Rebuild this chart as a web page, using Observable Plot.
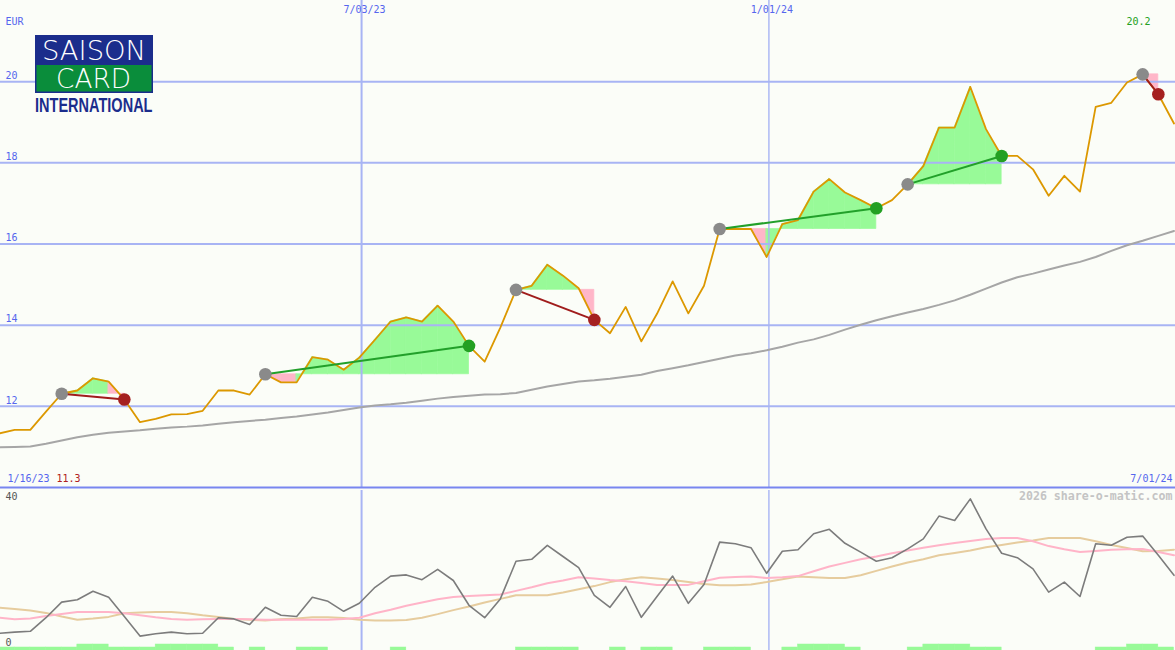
<!DOCTYPE html>
<html>
<head>
<meta charset="utf-8">
<script src="https://cdn.jsdelivr.net/npm/d3@7"></script>
<script src="https://cdn.jsdelivr.net/npm/@observablehq/plot@0.6"></script>
<style>
  html, body { margin: 0; padding: 0; background: #fbfdf8; }
  #wrap { position: relative; width: 1175px; height: 650px; background: #fbfdf8; overflow: hidden; }
  #topPanel, #bottomPanel { position: absolute; left: 0; }
  #topPanel { top: 0; }
  #bottomPanel { top: 488px; }
  #logo { position: absolute; left: 35px; top: 35px; overflow: visible; }
</style>
</head>
<body>
<div id="wrap">
  <div id="topPanel"></div>
  <div id="bottomPanel"></div>
  <svg id="logo" width="124" height="86" viewBox="0 0 124 86">
    <rect x="0" y="0" width="118" height="58" fill="#1b2d8c"></rect>
    <rect x="1.5" y="30" width="115" height="26.5" fill="#0a8d3b"></rect>
    <text x="59" y="24.5" text-anchor="middle" fill="#ffffff" font-family="DejaVu Sans" font-weight="200" font-size="26" textLength="104" lengthAdjust="spacingAndGlyphs">SAISON</text>
    <text x="58.5" y="52.5" text-anchor="middle" fill="#ffffff" font-family="DejaVu Sans" font-weight="200" font-size="26" textLength="75" lengthAdjust="spacingAndGlyphs">CARD</text>
    <text x="0" y="76.5" fill="#1b2d8c" font-family="Liberation Sans Narrow, Liberation Sans, DejaVu Sans" font-weight="bold" font-size="20" textLength="117.5" lengthAdjust="spacingAndGlyphs">INTERNATIONAL</text>
  </svg>
</div>
<script>
// ---------- data ----------
const dates = [
  "2023-01-22","2023-01-29","2023-02-05","2023-02-12","2023-02-19","2023-02-26","2023-03-05","2023-03-12","2023-03-19","2023-03-26",
  "2023-04-02","2023-04-09","2023-04-16","2023-04-23","2023-04-30","2023-05-07","2023-05-14","2023-05-21","2023-05-28","2023-06-04",
  "2023-06-11","2023-06-18","2023-06-25","2023-07-02","2023-07-09","2023-07-16","2023-07-23","2023-07-30","2023-08-06","2023-08-13",
  "2023-08-20","2023-08-27","2023-09-03","2023-09-10","2023-09-17","2023-09-24","2023-10-01","2023-10-08","2023-10-15","2023-10-22",
  "2023-10-29","2023-11-05","2023-11-12","2023-11-19","2023-11-26","2023-12-03","2023-12-10","2023-12-17","2023-12-24","2023-12-31",
  "2024-01-07","2024-01-14","2024-01-21","2024-01-28","2024-02-04","2024-02-11","2024-02-18","2024-02-25","2024-03-03","2024-03-10",
  "2024-03-17","2024-03-24","2024-03-31","2024-04-07","2024-04-14","2024-04-21","2024-04-28","2024-05-05","2024-05-12","2024-05-19",
  "2024-05-26","2024-06-02","2024-06-09","2024-06-16","2024-06-23","2024-06-30"
];

const price = [
  11.33, 11.42, 11.42, 11.87, 12.31, 12.39, 12.69, 12.61, 12.17, 11.61,
  11.69, 11.80, 11.81, 11.89, 12.39, 12.39, 12.29, 12.79, 12.59, 12.59,
  13.21, 13.15, 12.90, 13.20, 13.64, 14.09, 14.19, 14.09, 14.48, 14.09,
  13.49, 13.10, 13.94, 14.87, 14.97, 15.49, 15.22, 14.91, 14.13, 13.80,
  14.45, 13.60, 14.28, 15.08, 14.29, 14.97, 16.37, 16.37, 16.37, 15.68,
  16.49, 16.59, 17.29, 17.60, 17.27, 17.08, 16.88, 17.08, 17.47, 17.92,
  18.87, 18.87, 19.87, 18.83, 18.17, 18.17, 17.84, 17.19, 17.68, 17.29,
  19.38, 19.48, 19.98, 20.18, 19.69, 18.97
];

const movingAvg = [
  10.99, 11.00, 11.01, 11.08, 11.16, 11.24, 11.30, 11.35, 11.38, 11.41,
  11.45, 11.48, 11.50, 11.53, 11.57, 11.61, 11.64, 11.67, 11.71, 11.75,
  11.80, 11.85, 11.91, 11.97, 12.02, 12.05, 12.09, 12.14, 12.19, 12.23,
  12.26, 12.29, 12.30, 12.33, 12.41, 12.49, 12.55, 12.61, 12.64, 12.68,
  12.73, 12.78, 12.87, 12.94, 13.01, 13.09, 13.17, 13.25, 13.31, 13.38,
  13.47, 13.57, 13.65, 13.76, 13.89, 14.01, 14.12, 14.22, 14.31, 14.40,
  14.50, 14.61, 14.75, 14.90, 15.05, 15.18, 15.27, 15.37, 15.47, 15.56,
  15.68, 15.83, 15.97, 16.08, 16.20, 16.32
];

const oscMain = [
  4.3, 4.6, 4.8, 8.2, 12.1, 12.7, 14.8, 13.3, 8.5, 3.6,
  4.2, 4.6, 4.2, 4.3, 8.2, 7.9, 6.5, 10.8, 8.8, 8.5,
  13.3, 12.3, 9.8, 11.8, 15.8, 18.6, 18.9, 17.7, 20.3, 17.5,
  11.3, 8.2, 12.9, 22.3, 22.8, 26.3, 23.5, 20.7, 13.8, 10.8,
  16.0, 8.3, 13.5, 18.6, 11.8, 16.5, 27.1, 26.7, 25.7, 19.3,
  24.8, 25.2, 29.2, 30.3, 26.8, 24.6, 22.3, 23.2, 25.4, 27.9,
  33.6, 32.5, 37.9, 30.4, 24.3, 23.2, 20.4, 14.6, 17.1, 13.5,
  26.7, 26.3, 28.3, 28.6, 23.8, 18.8
];

const oscFast = [
  8.2, 7.8, 8.0, 8.6, 9.1, 9.6, 9.6, 9.6, 9.3, 8.8,
  8.3, 7.9, 7.7, 7.8, 7.9, 7.9, 7.8, 7.7, 7.7, 7.7,
  7.7, 7.7, 7.9, 8.2, 9.3, 10.2, 11.2, 12.0, 12.8, 13.4,
  13.6, 13.8, 14.0, 14.9, 15.8, 16.8, 17.5, 18.3, 18.0, 17.6,
  17.3, 16.9, 16.4, 16.4, 16.4, 17.3, 18.2, 18.4, 18.5, 18.1,
  18.3, 18.6, 19.8, 21.0, 21.9, 22.8, 23.5, 24.3, 25.0, 25.7,
  26.3, 26.9, 27.4, 27.9, 28.1, 28.1, 27.3, 26.1, 25.3, 24.6,
  24.9, 25.2, 25.3, 25.4, 24.6, 23.8
];

const oscSlow = [
  10.7, 10.4, 10.0, 9.4, 8.5, 7.7, 8.0, 8.4, 9.3, 9.5,
  9.6, 9.6, 9.3, 8.8, 8.4, 7.9, 7.7, 7.5, 7.8, 8.0,
  8.3, 8.3, 8.1, 7.7, 7.5, 7.5, 7.6, 8.2, 9.1, 10.1,
  11.0, 12.0, 12.9, 13.8, 13.8, 13.8, 14.5, 15.3, 16.1, 17.1,
  17.8, 18.3, 18.0, 17.6, 17.1, 16.6, 16.3, 16.3, 16.5, 17.1,
  17.8, 18.5, 18.3, 18.1, 18.1, 18.8, 19.9, 21.0, 22.0, 22.8,
  23.8, 24.4, 25.0, 25.8, 26.4, 27.0, 27.5, 28.1, 28.1, 28.1,
  27.3, 26.4, 25.6, 24.8, 24.9, 25.2
];

// weekly signal strength (0 none, 1 weak, 2 strong), one per week interval
const signal = [
  1,1,1,1,1, 2,2, 1,1,1, 2,2,2,2, 1, 0, 1, 0,0, 1,1, 0,0,0,0, 1,
  0,0,0,0,0,0,0, 1,1,1,1, 0,0, 1, 0, 1,1, 0,0, 1,1,1, 0,0,
  1, 2,2,2, 1, 0,0,0, 1, 2,2,2, 1,1, 0,0,0,0,0,0, 1,1, 2,2, 1
];

const tradeBuy  = ["2023-02-19","2023-05-21","2023-09-10","2023-12-10","2024-03-03","2024-06-16"];
const tradeSell = ["2023-03-19","2023-08-20","2023-10-15","2024-02-18","2024-04-14","2024-06-23"];

const priceTicks = [12, 14, 16, 18, 20];
const oscTicks = [0, 40];
const gridDates = ["2023-07-03", "2024-01-01"];
const gridLabels = ["7/03/23", "1/01/24"];
const currency = "EUR";
const startLabel = "1/16/23";
const endLabel = "7/01/24";
const watermark = "2026 share-o-matic.com";

// ---------- build ----------
const parse = d3.utcParse("%Y-%m-%d");
const X = dates.map(parse);
const rows = X.map((d, i) => ({date: d, price: price[i], ma: movingAvg[i], osc: oscMain[i], fast: oscFast[i], slow: oscSlow[i]}));
const G = gridDates.map(parse);

const GREEN = "#98fa98", PINK = "#ffb6c8";
const trades = tradeBuy.map((b, t) => {
  const bi = dates.indexOf(b), si = dates.indexOf(tradeSell[t]);
  return {bi, si, bd: X[bi], sd: X[si], bp: price[bi], sp: price[si], win: price[si] >= price[bi]};
});
const segs = [];
trades.forEach((tr, t) => {
  for (let i = tr.bi; i < tr.si; i++) {
    const fill = price[i + 1] >= tr.bp ? GREEN : PINK;
    const seg = t + "-" + i;
    segs.push({seg, date: X[i], entry: tr.bp, price: price[i], fill});
    segs.push({seg, date: X[i + 1], entry: tr.bp, price: price[i + 1], fill});
  }
});
const bars = signal.map((s, i) => ({x1: X[i], x2: X[i + 1], level: s})).filter(d => d.level > 0);

const hi = d3.max(price), lo = d3.min(price);
const BLUE_TXT = "#5566ee";
const GRID = "#a8b4f4";
const xDomain = [X[0], X[X.length - 1]];
const gridW = (d, i) => i === 0 ? 2 : 1.4;
const baseStyle = {background: "transparent", fontFamily: "DejaVu Sans Mono", fontSize: "10px", overflow: "visible"};

const topChart = Plot.plot({
  width: 1175, height: 488,
  marginTop: 0, marginBottom: 1, marginLeft: -1.5, marginRight: 1.5,
  x: {type: "utc", domain: xDomain, axis: null},
  y: {domain: [10, 22], axis: null},
  color: {type: "identity"},
  style: baseStyle,
  marks: [
    Plot.areaY(segs, {x: "date", y1: "entry", y2: "price", z: "seg", fill: "fill", stroke: "fill", strokeWidth: 0.7}),
    Plot.ruleY(priceTicks, {stroke: GRID, strokeWidth: 2, insetLeft: -2, insetRight: -2}),
    Plot.ruleX(G, {x: d => d, stroke: GRID, strokeWidth: gridW}),
    Plot.ruleY([10], {stroke: "#7886f0", strokeWidth: 2.2, insetLeft: -2, insetRight: -2}),
    Plot.line(rows, {x: "date", y: "ma", stroke: "#a6a6a6", strokeWidth: 2}),
    Plot.line(rows, {x: "date", y: "price", stroke: "#dc9800", strokeWidth: 1.8}),
    Plot.link(trades, {x1: "bd", y1: "bp", x2: "sd", y2: "sp", stroke: d => d.win ? "#22a02a" : "#a01c1c", strokeWidth: 2}),
    Plot.dot(trades, {x: "bd", y: "bp", r: 6.3, fill: "#8a8a8a"}),
    Plot.dot(trades, {x: "sd", y: "sp", r: 6.3, fill: d => d.win ? "#23a023" : "#a52020"}),
    Plot.text(priceTicks, {y: d => d, text: d => String(d), frameAnchor: "left", textAnchor: "start", lineAnchor: "middle", dx: 6.5, dy: -6, fill: BLUE_TXT}),
    Plot.text([currency], {text: d => d, frameAnchor: "top-left", textAnchor: "start", lineAnchor: "middle", dx: 6.5, dy: 21.5, fill: BLUE_TXT}),
    Plot.text(G, {x: d => d, text: (d, i) => gridLabels[i], frameAnchor: "top", lineAnchor: "middle", dx: 3, dy: 9, fill: BLUE_TXT}),
    Plot.text([hi], {text: d => d3.format(".1f")(d), frameAnchor: "top-right", textAnchor: "end", lineAnchor: "middle", dx: -23.5, dy: 21, fill: "#22a022"}),
    Plot.text([startLabel], {text: d => d, frameAnchor: "bottom-left", textAnchor: "start", lineAnchor: "middle", dx: 8.5, dy: -8.5, fill: BLUE_TXT}),
    Plot.text([lo], {text: d => d3.format(".1f")(d), frameAnchor: "bottom-left", textAnchor: "start", lineAnchor: "middle", dx: 57.5, dy: -8.5, fill: "#b02020"}),
    Plot.text([endLabel], {text: d => d, frameAnchor: "bottom-right", textAnchor: "end", lineAnchor: "middle", dx: -1.5, dy: -8.5, fill: BLUE_TXT})
  ]
});
document.getElementById("topPanel").appendChild(topChart);

const bottomChart = Plot.plot({
  width: 1175, height: 162,
  marginTop: 2, marginBottom: 0, marginLeft: -1.5, marginRight: 1.5,
  x: {type: "utc", domain: xDomain, axis: null},
  y: {domain: [0, 40], axis: null},
  style: baseStyle,
  marks: [
    Plot.rect(bars, {x1: "x1", x2: "x2", y1: 0, y2: d => d.level * 0.75, fill: "#98fa98", stroke: "#98fa98", strokeWidth: 0.5}),
    Plot.ruleX(G, {x: d => d, stroke: GRID, strokeWidth: gridW}),
    Plot.line(rows, {x: "date", y: "slow", stroke: "#e6cc9e", strokeWidth: 2}),
    Plot.line(rows, {x: "date", y: "fast", stroke: "#ffb4c8", strokeWidth: 2}),
    Plot.line(rows, {x: "date", y: "osc", stroke: "#7c7c7c", strokeWidth: 1.6}),
    Plot.text([oscTicks[1]], {y: d => d, text: d => String(d), frameAnchor: "left", textAnchor: "start", lineAnchor: "middle", dx: 6.5, dy: 6, fill: "#555555"}),
    Plot.text([oscTicks[0]], {y: d => d, text: d => String(d), frameAnchor: "left", textAnchor: "start", lineAnchor: "middle", dx: 6.5, dy: -8, fill: "#555555"}),
    Plot.text([watermark], {text: d => d, frameAnchor: "top-right", textAnchor: "end", lineAnchor: "middle", dx: -1.5, dy: 5.5, fill: "#c4c4c4", fontWeight: "bold", fontSize: 11.6})
  ]
});
document.getElementById("bottomPanel").appendChild(bottomChart);
</script>
</body>
</html>
